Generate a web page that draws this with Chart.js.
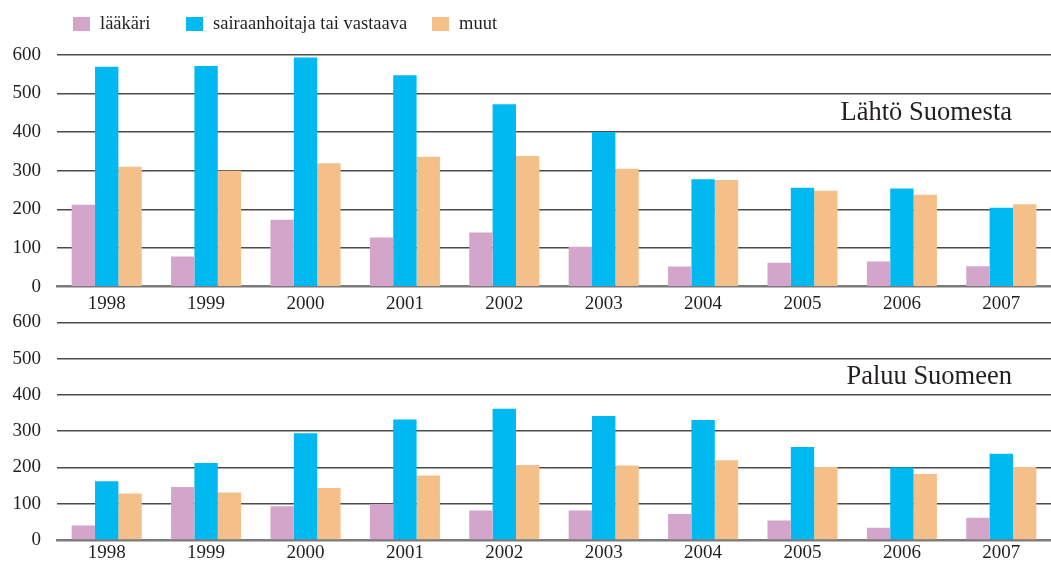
<!DOCTYPE html>
<html>
<head>
<meta charset="utf-8">
<script src="https://cdn.jsdelivr.net/npm/chart.js@4.4.1/dist/chart.umd.min.js"></script>
<style>
  html, body { margin: 0; background: #fff; overflow: hidden; }
  .wrap { position: relative; width: 1051px; height: 564px; overflow: hidden; font-family: "Liberation Serif", serif; color: #231f20; }
  .box { position: absolute; }
  .legend-item { position: absolute; top: 12px; font-size: 18.5px; line-height: 22px; white-space: nowrap; }
  .legend-item span { position: absolute; left: 0; top: 5px; width: 17px; height: 14px; }
  .legend-item b { font-weight: normal; position: absolute; left: 27px; top: 0; }
</style>
</head>
<body>
<div class="wrap">
  <div class="box" style="left:0;top:0;width:1051px;height:316px"><canvas id="topChart"></canvas></div>
  <div class="box" style="left:0;top:280px;width:1051px;height:290px"><canvas id="bottomChart"></canvas></div>
  <div id="legend"></div>
</div>
<script>
const years = ['1998', '1999', '2000', '2001', '2002', '2003', '2004', '2005', '2006', '2007'];
const seriesNames = ['lääkäri', 'sairaanhoitaja tai vastaava', 'muut'];
const seriesColors = ['#d3a5cb', '#00b9f0', '#f4bf88'];
const yTicks = [0, 100, 200, 300, 400, 500, 600];

// Lähtö Suomesta
const lahtoLaakari = [212, 78, 173, 127, 140, 103, 52, 62, 65, 53];
const lahtoHoitaja = [569, 571, 593, 547, 472, 400, 278, 256, 254, 204];
const lahtoMuut = [310, 300, 319, 336, 338, 305, 276, 248, 238, 213];

// Paluu Suomeen
const paluuLaakari = [40, 146, 93, 99, 81, 81, 72, 54, 34, 61];
const paluuHoitaja = [162, 212, 294, 332, 362, 342, 331, 256, 200, 238];
const paluuMuut = [128, 131, 143, 178, 207, 205, 220, 201, 182, 201];

const font = { family: 'Liberation Serif', size: 19 };

// legend as html, one row at the top
const legendLeft = [73, 186, 432];
const legend = document.getElementById('legend');
seriesNames.forEach((name, i) => {
    const item = document.createElement('div');
    item.className = 'legend-item';
    item.style.left = legendLeft[i] + 'px';
    item.innerHTML = '<span style="background:' + seriesColors[i] + '"></span><b>' + name + '</b>';
    legend.appendChild(item);
});

// panel title inside the plot area
const panelTitle = {
    id: 'panelTitle',
    afterDraw(chart, args, opts) {
        const ctx = chart.ctx;
        ctx.save();
        ctx.font = '26.5px "Liberation Serif"';
        ctx.fillStyle = '#231f20';
        ctx.textAlign = 'right';
        ctx.textBaseline = 'alphabetic';
        ctx.fillText(opts.text, chart.chartArea.right - 39, chart.scales.y.getPixelForValue(430));
        ctx.restore();
    }
};

function makeChart(id, values, title, padTop, xHeight, xPad) {
    const datasets = values.map((v, i) => ({
        label: seriesNames[i],
        data: v,
        backgroundColor: seriesColors[i],
        categoryPercentage: 0.705,
        barPercentage: 1
    }));
    return new Chart(document.getElementById(id), {
        type: 'bar',
        data: { labels: years, datasets: datasets },
        plugins: [panelTitle],
        options: {
            responsive: true,
            maintainAspectRatio: false,
            animation: false,
            layout: { padding: { top: padTop, right: 0, left: 0, bottom: 0 } },
            plugins: {
                legend: { display: false },
                tooltip: { enabled: false },
                panelTitle: { text: title }
            },
            scales: {
                x: {
                    grid: { display: false, drawTicks: false },
                    border: { display: true, color: '#7a7a7a', width: 2.5 },
                    ticks: { font: font, color: '#231f20', padding: xPad },
                    afterFit(scale) { scale.height = xHeight; }
                },
                y: {
                    min: 0,
                    max: 600,
                    afterBuildTicks(scale) { scale.ticks = yTicks.map(v => ({ value: v })); },
                    grid: {
                        drawTicks: false,
                        color: ctx => ctx.tick && ctx.tick.value === 0 ? 'rgba(0,0,0,0)' : '#4a4a4a',
                        lineWidth: 1.5
                    },
                    border: { display: false },
                    ticks: { font: font, color: '#231f20', padding: 16 },
                    afterFit(scale) { scale.width = 57; }
                }
            }
        }
    });
}

makeChart('topChart', [lahtoLaakari, lahtoHoitaja, lahtoMuut], 'Lähtö Suomesta', 54.7, 29.3, 6);
makeChart('bottomChart', [paluuLaakari, paluuHoitaja, paluuMuut], 'Paluu Suomeen', 42.3, 30, 2);
</script>
</body>
</html>
